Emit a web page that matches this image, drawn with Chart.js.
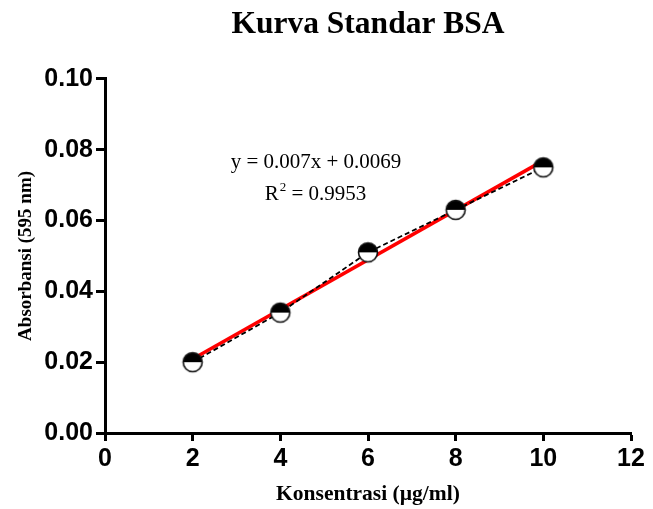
<!DOCTYPE html>
<html>
<head>
<meta charset="utf-8">
<script src="https://cdn.jsdelivr.net/npm/chart.js@4"></script>
<style>
  html, body { margin: 0; padding: 0; background: #fff; }
  #wrap { width: 653px; height: 509px; }
</style>
</head>
<body>
<div id="wrap"><canvas id="chart" width="653" height="509"></canvas></div>
<script>
// data
const konsentrasi = [2, 4, 6, 8, 10];
const absorbansi = [0.020, 0.034, 0.051, 0.063, 0.075];
// regression line y = 0.007x + 0.0069, endpoints
const fitX = [2, 10];
const fitY = [0.0209, 0.0769];
const xTicks = [0, 2, 4, 6, 8, 10, 12];
const yTicks = [0, 0.02, 0.04, 0.06, 0.08, 0.10];

const serif = "'Liberation Serif', 'Times New Roman', serif";
const sans = "'Liberation Sans', Arial, sans-serif";

// half filled circle marker (black top, white bottom)
function halfCircle() {
  const c = document.createElement('canvas');
  c.width = 24; c.height = 24;
  const g = c.getContext('2d');
  const r = 9.5;
  g.beginPath();
  g.arc(12, 12, r, 0, Math.PI * 2);
  g.fillStyle = '#fff';
  g.fill();
  g.beginPath();
  g.moveTo(12 - r, 12);
  g.arc(12, 12, r, Math.PI, 2 * Math.PI);
  g.closePath();
  g.fillStyle = '#000';
  g.fill();
  g.beginPath();
  g.arc(12, 12, r, 0, Math.PI * 2);
  g.lineWidth = 1.6;
  g.strokeStyle = '#111';
  g.stroke();
  return c;
}
const marker = halfCircle();

const equation = {
  id: 'equation',
  afterDatasetsDraw(chart) {
    const ctx = chart.ctx;
    const a = chart.chartArea;
    ctx.save();
    ctx.fillStyle = '#000';
    ctx.textBaseline = 'alphabetic';
    ctx.font = '21px ' + serif;
    ctx.textAlign = 'center';
    ctx.fillText('y = 0.007x + 0.0069', a.left + 211, a.top + 89);
    // R^2 line with superscript
    const part1 = 'R', sup = '2', part2 = ' = 0.9953';
    const w1 = ctx.measureText(part1).width;
    ctx.font = '13px ' + serif;
    const ws = ctx.measureText(sup).width;
    ctx.font = '21px ' + serif;
    const w2 = ctx.measureText(part2).width;
    let x = a.left + 210 - (w1 + ws + w2) / 2;
    const y = a.top + 121;
    ctx.textAlign = 'left';
    ctx.fillText(part1, x, y);
    x += w1;
    ctx.font = '13px ' + serif;
    ctx.fillText(sup, x + 1, y - 9);
    x += ws + 1;
    ctx.font = '21px ' + serif;
    ctx.fillText(part2, x, y);
    ctx.restore();
  }
};

new Chart(document.getElementById('chart'), {
  type: 'line',
  data: {
    datasets: [
      {
        label: 'Data',
        data: konsentrasi.map((x, i) => ({ x, y: absorbansi[i] })),
        borderColor: '#000',
        borderWidth: 1.8,
        borderDash: [5, 3],
        pointStyle: marker,
        pointRadius: 10,
        tension: 0,
        order: 0
      },
      {
        label: 'Fit',
        data: fitX.map((x, i) => ({ x, y: fitY[i] })),
        borderColor: '#ff0000',
        borderWidth: 3.5,
        pointRadius: 0,
        tension: 0,
        order: 1
      }
    ]
  },
  options: {
    responsive: false,
    animation: false,
    layout: { padding: { left: 0, right: 22, top: 0, bottom: 0 } },
    plugins: {
      legend: { display: false },
      tooltip: { enabled: false },
      title: {
        display: true,
        text: 'Kurva Standar BSA',
        fullSize: false,
        color: '#000',
        font: { family: serif, size: 31.5, weight: 'bold' },
        padding: { top: 6, bottom: 35 }
      }
    },
    scales: {
      x: {
        type: 'linear',
        min: 0, max: 12,
        afterBuildTicks: s => { s.ticks = xTicks.map(v => ({ value: v })); },
        afterFit: s => { s.height = 76; },
        grid: { drawOnChartArea: false, drawTicks: true, tickLength: 8, tickWidth: 3, tickColor: '#000' },
        border: { display: true, width: 3, color: '#000' },
        ticks: { color: '#000', padding: 3, font: { family: sans, size: 25, weight: 'bold' } },
        title: {
          display: true, text: 'Konsentrasi (µg/ml)', color: '#000',
          font: { family: serif, size: 21.5, weight: 'bold' },
          padding: { top: 4, bottom: 2 }
        }
      },
      y: {
        type: 'linear',
        min: 0, max: 0.1,
        afterBuildTicks: s => { s.ticks = yTicks.map(v => ({ value: v })); },
        afterFit: s => { s.width = 105; },
        grid: { drawOnChartArea: false, drawTicks: true, tickLength: 9, tickWidth: 3, tickColor: '#000' },
        border: { display: true, width: 3, color: '#000' },
        ticks: {
          color: '#000', padding: 3,
          font: { family: sans, size: 25, weight: 'bold' },
          callback: v => v.toFixed(2)
        },
        title: {
          display: true, text: 'Absorbansi (595 nm)', color: '#000',
          font: { family: serif, size: 19, weight: 'bold' },
          padding: { top: 15, bottom: 0 }
        }
      }
    }
  },
  plugins: [equation]
});
</script>
</body>
</html>
